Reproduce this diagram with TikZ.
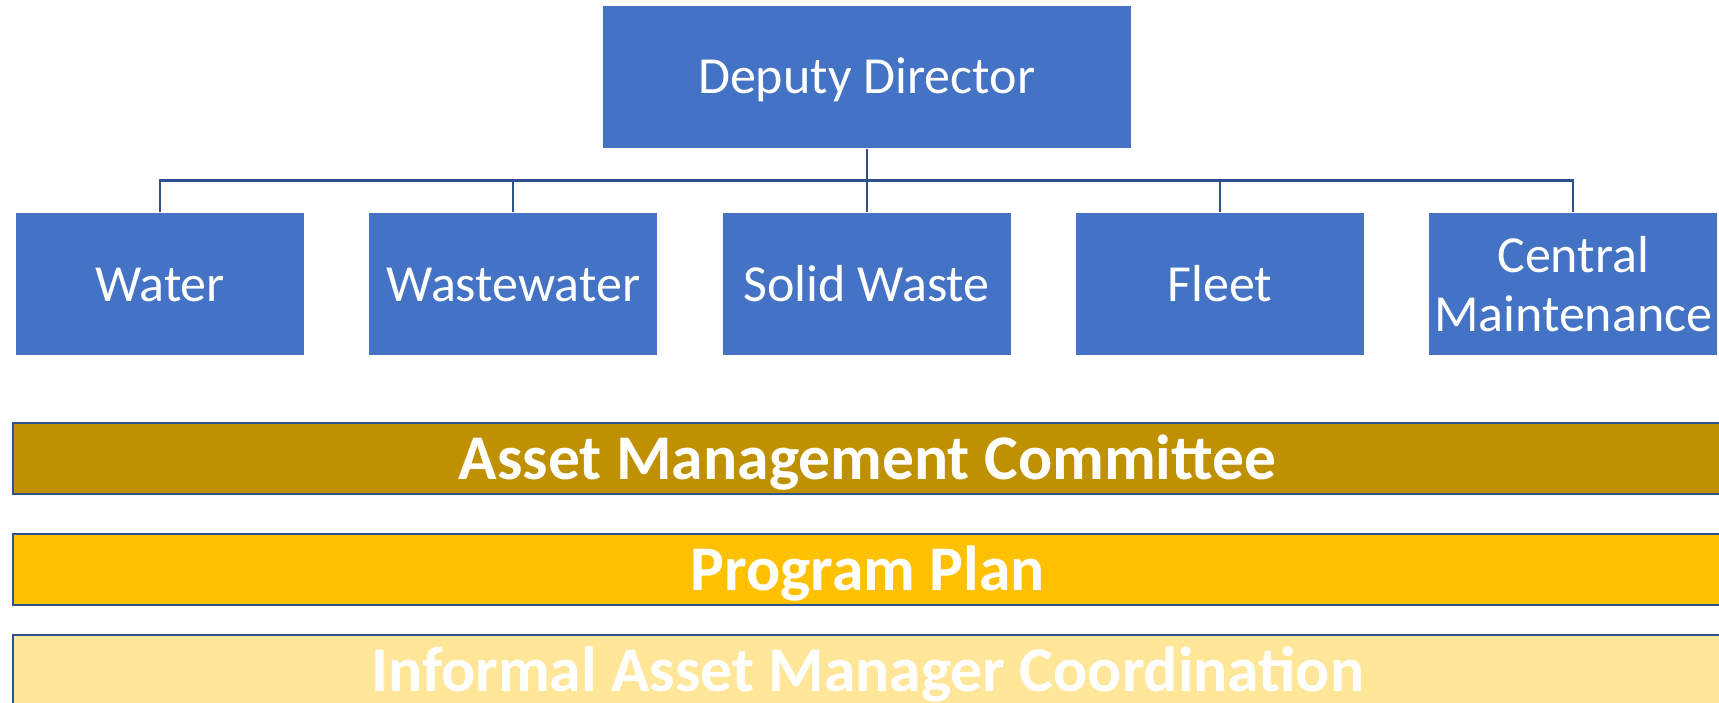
\documentclass[tikz,border=0pt]{standalone}
\usepackage{fontspec}
\setmainfont{Carlito}
\usetikzlibrary{positioning}
\definecolor{unitblue}{HTML}{4472C4}
\definecolor{linkblue}{HTML}{2F528F}
\definecolor{amcgold}{HTML}{BF9000}
\definecolor{plangold}{HTML}{FFC000}
\definecolor{infogold}{HTML}{FFE699}
\tikzset{unit/.style={fill=unitblue, draw=white, line width=0.4pt, text=white, inner sep=0pt,
    minimum width=2.89cm, minimum height=1.43cm, align=center,
    font=\fontsize{14.8}{16.8}\selectfont},
  oneline/.style={text height=9.5pt, text depth=0pt},
  link/.style={draw=linkblue, line width=0.6pt},
  bar/.style={draw=linkblue, line width=0.6pt, text=white, inner sep=0pt,
    minimum width=17.086cm, minimum height=0.71cm,
    text height=11.66pt, text depth=0pt, font=\fontsize{18.1}{21}\selectfont\bfseries}}

\begin{document}
\begin{tikzpicture}[x=0.01cm,y=-0.01cm]
\useasboundingbox (0,0) rectangle (1719,702);
\clip (0,0) rectangle (1719,702);
% the five units
\node[unit, oneline] (water) at (160,284.3) {Water};
\node[unit, oneline, right=0.627cm of water] (wastewater) {Wastewater};
\node[unit, oneline, right=0.627cm of wastewater] (solid) {Solid Waste};
\node[unit, oneline, right=0.627cm of solid] (fleet) {Fleet};
\node[unit, right=0.627cm of fleet] (central) {Central\\Maintenance};
% top box
\node[unit, oneline, minimum width=5.29cm] (deputy) at (solid |- 0,76.7) {Deputy Director};
% connectors
\coordinate (bus) at (solid |- 0,180.5);
\draw[link] (deputy.south) -- (solid.north);
\draw[link] (water.north) |- (bus) -| (central.north);
\draw[link] (wastewater.north) -- (wastewater.north |- bus);
\draw[link] (fleet.north) -- (fleet.north |- bus);
% bands
\node[bar, fill=amcgold] (amc) at (867.7,458.8) {Asset Management Committee};
\node[bar, fill=plangold] (plan) at (867.7,569.6) {Program Plan};
\node[bar, fill=infogold] (informal) at (867.7,670.8) {Informal Asset Manager Coordination};
\end{tikzpicture}
\end{document}
